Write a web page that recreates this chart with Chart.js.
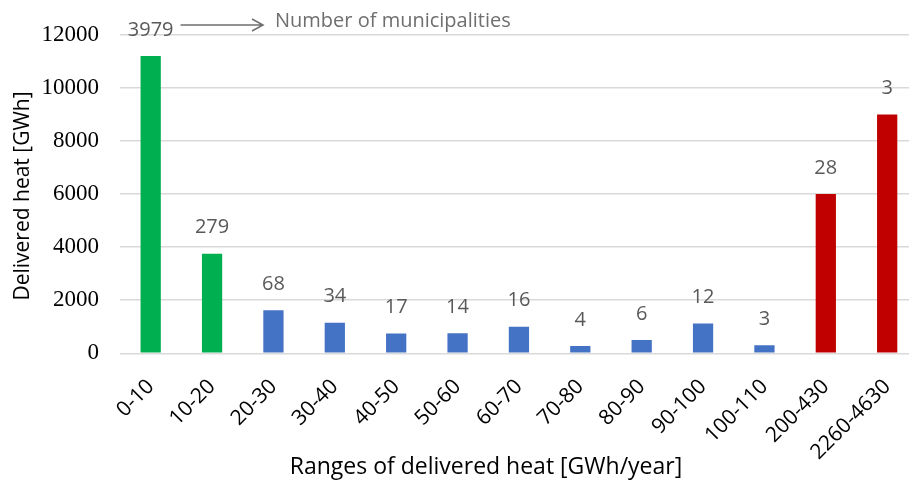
<!DOCTYPE html>
<html><head><meta charset="utf-8">
<script src="https://cdn.jsdelivr.net/npm/chart.js@4/dist/chart.umd.min.js"></script>
<style>html,body{margin:0;padding:0;background:#fff;overflow:hidden}#wrap{position:relative;width:926px;height:482px}</style>
</head><body><div id="wrap"><canvas id="c"></canvas></div>
<script>
const categories = ['0-10','10-20','20-30','30-40','40-50','50-60','60-70','70-80','80-90','90-100','100-110','200-430','2260-4630'];
const deliveredHeat = [11200,3750,1620,1150,750,760,1000,275,500,1120,300,6000,9000];
const municipalities = [3979,279,68,34,17,14,16,4,6,12,3,28,3];
const yTicks = [0,2000,4000,6000,8000,10000,12000];
const sizeGroup = ['small','small','mid','mid','mid','mid','mid','mid','mid','mid','mid','large','large'];
const groupColors = {small:'#00b050', mid:'#4472c4', large:'#c00000'};
const yTitle = 'Delivered heat [GWh]';
const xTitle = 'Ranges of delivered heat [GWh/year]';
const noteText = 'Number of municipalities';

const SANS = '"Open Sans", sans-serif';
const SERIF = '"Liberation Serif", serif';

const labelsPlugin = {
  id: 'labelsPlugin',
  afterDatasetsDraw(chart) {
    const ctx = chart.ctx;
    const meta = chart.getDatasetMeta(0);
    ctx.save();
    ctx.font = '20px ' + SANS;
    ctx.fillStyle = '#595959';
    ctx.textAlign = 'center';
    ctx.textBaseline = 'middle';
    meta.data.forEach((el, i) => {
      ctx.fillText(String(municipalities[i]), el.x, el.y - 26);
    });
    // annotation arrow
    const first = meta.data[0];
    const w = ctx.measureText(String(municipalities[0])).width;
    const ay = first.y - 31;
    const x0 = first.x + w / 2 + 7;
    const x1 = 263;
    ctx.strokeStyle = '#6f6f6f';
    ctx.lineWidth = 1.5;
    ctx.beginPath();
    ctx.moveTo(x0, ay); ctx.lineTo(x1, ay);
    ctx.moveTo(x1 - 11, ay - 6); ctx.lineTo(x1, ay); ctx.lineTo(x1 - 11, ay + 6);
    ctx.stroke();
    ctx.fillStyle = '#6f6f6f';
    ctx.textAlign = 'left';
    ctx.fillText(noteText, x1 + 12, ay - 4);
    // axis titles
    ctx.fillStyle = '#000';
    ctx.font = '23px ' + SANS;
    ctx.textAlign = 'center';
    ctx.fillText(xTitle, 486, 467);
    ctx.font = '21px ' + SANS;
    ctx.save();
    ctx.translate(23, 196);
    ctx.rotate(-Math.PI / 2);
    ctx.fillText(yTitle, 0, 0);
    ctx.restore();
    ctx.restore();
  }
};

new Chart(document.getElementById('c'), {
  type: 'bar',
  data: {
    labels: categories,
    datasets: [{
      data: deliveredHeat,
      backgroundColor: sizeGroup.map(g => groupColors[g]),
      borderWidth: 0,
      barPercentage: 0.33,
      categoryPercentage: 1.0
    }]
  },
  options: {
    responsive: true,
    maintainAspectRatio: false,
    animation: false,
    layout: { padding: { top: 32.5, right: 0, left: 0, bottom: 0 } },
    plugins: { legend: { display: false }, tooltip: { enabled: false } },
    scales: {
      x: {
        grid: { display: false, drawTicks: false },
        border: { display: false },
        ticks: {
          maxRotation: 45, minRotation: 45,
          color: '#000',
          font: { family: SANS, size: 21 },
          padding: 21
        },
        afterFit(s) { s.height = 128.7; }
      },
      y: {
        min: 0, max: 12000,
        afterBuildTicks(s) { s.ticks = yTicks.map(v => ({ value: v })); },
        grid: { color: '#d9d9d9', lineWidth: 1.5, drawTicks: false },
        border: { display: false },
        ticks: {
          color: '#000',
          font: { family: SERIF, size: 23 },
          padding: 21,
          callback: (v) => String(v)
        },
        afterFit(s) { s.width = 120; }
      }
    }
  },
  plugins: [labelsPlugin]
});
</script></body></html>
